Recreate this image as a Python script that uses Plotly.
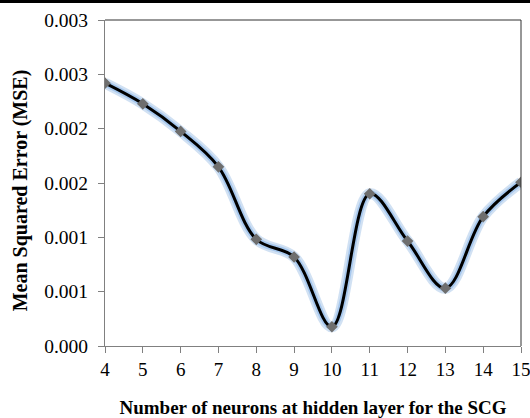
import plotly.graph_objects as go

neurons = [4, 5, 6, 7, 8, 9, 10, 11, 12, 13, 14, 15]
mse = [0.002419, 0.002229, 0.001975, 0.001649, 0.000982, 0.000819,
       0.000177, 0.001401, 0.000966, 0.000532, 0.001190, 0.001507]
y_tickvals = [0, 0.0005, 0.001, 0.0015, 0.002, 0.0025, 0.003]
y_ticktext = ["0.000", "0.001", "0.001", "0.002", "0.002", "0.003", "0.003"]
x_tickvals = [4, 5, 6, 7, 8, 9, 10, 11, 12, 13, 14, 15]

fig = go.Figure()
fig.add_trace(go.Scatter(x=neurons, y=mse, mode="lines",
                         line=dict(color="rgba(140,180,225,0.4)", width=11, shape="spline", smoothing=1.0),
                         hoverinfo="skip", showlegend=False))
fig.add_trace(go.Scatter(x=neurons, y=mse, mode="lines",
                         line=dict(color="rgba(150,190,235,0.7)", width=6.5, shape="spline", smoothing=1.0),
                         hoverinfo="skip", showlegend=False))
fig.add_trace(go.Scatter(x=neurons, y=mse, mode="lines+markers",
                         line=dict(color="black", width=3, shape="spline", smoothing=1.0),
                         marker=dict(symbol="diamond", size=9, color="#6e6e6e"),
                         showlegend=False))

font_family = "Liberation Serif"
fig.update_layout(
    width=530, height=418,
    margin=dict(l=105, r=9, t=20, b=71.5),
    paper_bgcolor="white", plot_bgcolor="white",
    font=dict(family=font_family, size=19, color="black"),
    xaxis=dict(range=[4, 15], tickvals=x_tickvals, ticks="outside", ticklen=6,
               tickcolor="#808080", showline=True, linecolor="#808080", linewidth=1,
               showgrid=False, zeroline=False, ticklabeloverflow="allow", automargin=False,
               tickfont=dict(size=19, family=font_family, color="black"),
               title=dict(text="<b>Number of neurons at hidden layer for the SCG</b>",
                          font=dict(size=19, family=font_family, color="black"), standoff=22)),
    yaxis=dict(range=[0, 0.003], tickvals=y_tickvals, ticktext=y_ticktext,
               ticks="outside", ticklen=6, tickcolor="#808080", ticklabelstandoff=6,
               showline=True, linecolor="#808080", linewidth=1, automargin=False,
               showgrid=False, zeroline=False,
               tickfont=dict(size=19.5, family=font_family, color="black")),
    annotations=[
        dict(text="<b>Mean Squared Error (MSE)</b>", xref="paper", yref="paper",
             x=-0.204, y=0.478, xanchor="center", yanchor="middle", textangle=-90,
             showarrow=False, font=dict(size=20, family=font_family, color="black")),
    ],
    shapes=[
        dict(type="line", xref="paper", yref="paper", x0=0, x1=1, y0=1, y1=1,
             line=dict(color="#303030", width=1), layer="above"),
        dict(type="line", xref="paper", yref="paper", x0=1, x1=1, y0=0, y1=1,
             line=dict(color="#303030", width=1), layer="above"),
        dict(type="rect", xref="paper", yref="paper", x0=-0.3, x1=1.05, y0=1.052, y1=1.1,
             line=dict(width=0), fillcolor="black"),
    ],
)

fig.write_html("out.html", config={"displayModeBar": False},
               post_script="document.body.style.margin='0';document.body.style.overflow='hidden';")
